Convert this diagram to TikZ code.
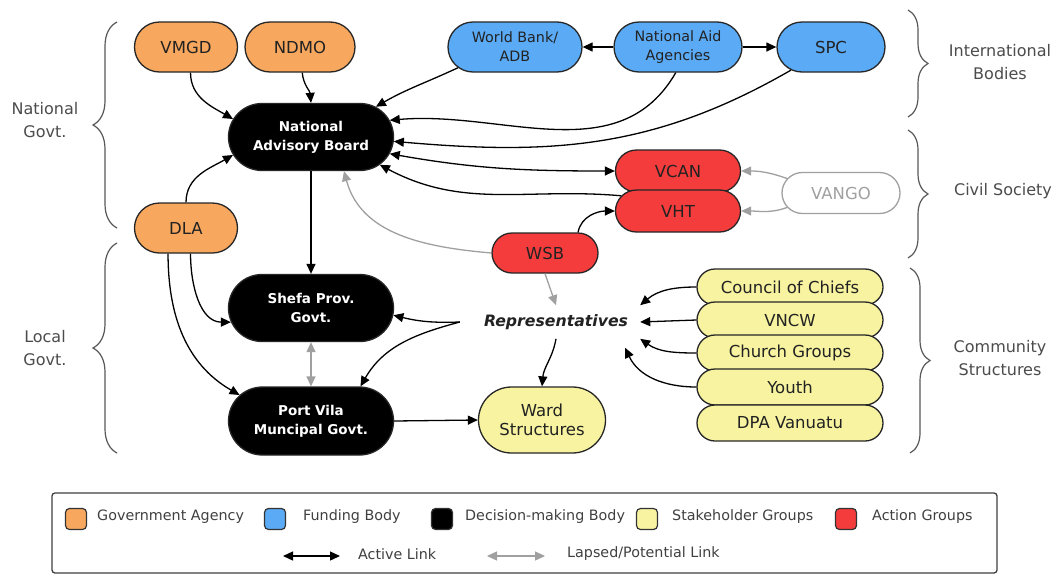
\documentclass[tikz,border=0pt]{standalone}
\usepackage{fontspec}
\setmainfont{DejaVu Sans}
\usetikzlibrary{shapes.misc,arrows.meta,decorations.pathreplacing}
\definecolor{orgc}{HTML}{F7A85E}
\definecolor{bluec}{HTML}{5AAAF5}
\definecolor{redc}{HTML}{F53C3C}
\definecolor{yelc}{HTML}{F7F3A0}
\definecolor{grayc}{HTML}{A0A0A0}
\definecolor{txtc}{HTML}{222222}
\begin{document}
\begin{tikzpicture}[x=1pt,y=-1pt,
  every node/.style={font=\fontsize{16.5}{19}\selectfont},
  pill/.style={rounded rectangle, draw=black!85, line width=1.3pt, align=center, inner sep=0pt, text=txtc},
  gov/.style={pill, fill=orgc, minimum width=103pt, minimum height=50pt},
  fund/.style={pill, fill=bluec, minimum height=50pt, font=\fontsize{14.3}{19}\selectfont},
  dec/.style={pill, fill=black, text=white, minimum width=165pt, minimum height=67pt, font=\bfseries\fontsize{13.5}{19}\selectfont},
  act/.style={pill, fill=redc, minimum width=125pt, minimum height=42pt},
  stake/.style={pill, fill=yelc, minimum width=186pt, minimum height=36pt},
  tip/.tip={Triangle[length=10pt,width=9pt]},
  arr/.style={line width=1.3pt, -tip},
  darr/.style={line width=1.3pt, tip-tip},
  garr/.style={arr, draw=grayc},
  gdarr/.style={darr, draw=grayc},
  brc/.style={decorate, decoration={brace, amplitude=#1}, line width=1.2pt, draw=black!65},
  side/.style={align=center, text=black!70, font=\fontsize{16}{23}\selectfont},
  sw/.style={draw=black!80, line width=1.2pt, rounded corners=4pt, minimum size=21pt, inner sep=0pt},
  leg/.style={anchor=west, text=black!75, font=\fontsize{14.3}{17}\selectfont, inner sep=0pt},
]
\useasboundingbox (0,0) rectangle (1059,576);
\fill[white] (0,0) rectangle (1059,576);

% nodes
\node[gov] (VMGD) at (186,47) {VMGD};
\node[gov, minimum width=110pt] (NDMO) at (300,47) {NDMO};
\node[fund, minimum width=134pt] (WB) at (515,47) {World Bank/\\ADB};
\node[fund, minimum width=128pt] (NAA) at (678,47) {National Aid\\Agencies};
\node[fund, minimum width=108pt, font=\fontsize{16.5}{19}\selectfont] (SPC) at (831,47) {SPC};
\node[dec] (NAB) at (311,137) {National\\Advisory Board};
\node[gov] (DLA) at (186,228) {DLA};
\node[act] (VCAN) at (678,171) {VCAN};
\node[act] (VHT) at (678,211) {VHT};
\node[pill, fill=white, draw=grayc, text=grayc, minimum width=118pt, minimum height=41pt] (VANGO) at (841,193) {VANGO};
\node[act, minimum width=106pt, minimum height=40pt] (WSB) at (545,253) {WSB};
\node[dec] (Shefa) at (311,308) {Shefa Prov.\\Govt.};
\node[dec, minimum height=68pt] (PV) at (311,421) {Port Vila\\Muncipal Govt.};
\node[pill, fill=yelc, minimum width=127pt, minimum height=66pt] (Ward) at (542,420) {Ward\\Structures};
\node[font=\bfseries\itshape\fontsize{15.7}{19}\selectfont, text=txtc, inner xsep=12pt, inner ysep=9pt] (Reps) at (556,322) {Representatives};
\node[stake] (CoC) at (790,287) {Council of Chiefs};
\node[stake] (VNCW) at (790,320) {VNCW};
\node[stake] (Church) at (790,353) {Church Groups};
\node[stake] (Youth) at (790,387) {Youth};
\node[stake] (DPA) at (790,423) {DPA Vanuatu};

% braces and side labels
\draw[brc=24pt] (117,228) -- (117,22);
\draw[brc=24pt] (117,453) -- (117,243);
\draw[brc=20pt] (908,10) -- (908,117);
\draw[brc=20pt] (908,130) -- (908,258);
\draw[brc=20pt] (910,268) -- (910,453);
\node[side] (lNat) at (45,120) {National\\Govt.};
\node[side] (lLoc) at (45,348) {Local\\Govt.};
\node[side] (lInt) at (1000,62) {International\\Bodies};
\node[side] (lCiv) at (1003,191) {Civil Society};
\node[side] (lCom) at (1000,358) {Community\\Structures};

% connectors
\draw[arr] (VMGD.-80) to[out=-90,in=150] (NAB.167);
\draw[arr] (NDMO.-85) to[out=-85,in=95] (NAB.north);
\draw[arr] (DLA.north) to[out=90,in=-150] (NAB.-167);
\draw[arr] (WB.-160) to[out=-155,in=30] (NAB.25);
\draw[arr] (NAA.west) -- (WB.east);
\draw[arr] (NAA.east) -- (SPC.west);
\draw[arr] (NAA.-95) to[out=-120,in=5] (NAB.12);
\draw[arr] (SPC.-150) to[out=-150,in=-5] (NAB.-3);
\draw[darr] (NAB.-12) to[out=-10,in=180] (VCAN.west);
\draw[arr] (VHT.165) to[out=175,in=-28] (NAB.-22);
\draw[arr] (WSB.32) to[out=80,in=180] (VHT.west);
\draw[garr] (WSB.west) to[out=175,in=-75] (NAB.-46);
\draw[garr] (VANGO.165) to[out=160,in=0] (VCAN.east);
\draw[garr] (VANGO.-165) to[out=-160,in=0] (VHT.east);
\draw[arr] (NAB.south) -- (Shefa.north);
\draw[arr] (DLA.-80) to[out=-90,in=180] (Shefa.-170);
\draw[arr] (DLA.-125) to[out=-90,in=150] (PV.160);
\draw[gdarr] (Shefa.south) -- (PV.north);
\coordinate (rj) at ([xshift=-12pt]Reps.west);
\draw[arr] (rj) to[bend left=8] (Shefa.-5);
\draw[arr] (rj) to[out=-165,in=60] (PV.35);
\draw[arr] (Reps.south) to[out=-100,in=85] (Ward.north);
\draw[arr] (PV.east) -- (Ward.west);
\draw[garr] (WSB.south) -- (Reps.north);
\draw[arr] (CoC.west) to[out=180,in=40] (Reps.north east);
\draw[arr] (VNCW.west) -- (Reps.east);
\draw[arr] (Church.west) to[out=180,in=-35] (Reps.south east);
\draw[arr] (Youth.west) to[out=180,in=-65] ([xshift=-15pt,yshift=-9pt]Reps.south east);

% legend
\draw[line width=1.3pt, draw=black!75, rounded corners=3pt] (52,493) rectangle (997,573);
\node[sw, fill=orgc] (s1) at (76,519) {};
\node[leg] (t1) at (97,517) {Government Agency};
\node[sw, fill=bluec] (s2) at (275,519) {};
\node[leg] (t2) at (303,517) {Funding Body};
\node[sw, fill=black] (s3) at (442,519) {};
\node[leg] (t3) at (465,517) {Decision-making Body};
\node[sw, fill=yelc] (s4) at (647,519) {};
\node[leg] (t4) at (672,517) {Stakeholder Groups};
\node[sw, fill=redc] (s5) at (846,519) {};
\node[leg] (t5) at (872,517) {Action Groups};
\coordinate (la1) at (283,556);
\coordinate (la2) at (340,556);
\draw[darr] (la1) -- (la2);
\node[leg] (t6) at (358,554) {Active Link};
\coordinate (lb1) at (487,556);
\coordinate (lb2) at (545,556);
\draw[gdarr] (lb1) -- (lb2);
\node[leg] (t7) at (567,554) {Lapsed/Potential Link};
\end{tikzpicture}
\end{document}
